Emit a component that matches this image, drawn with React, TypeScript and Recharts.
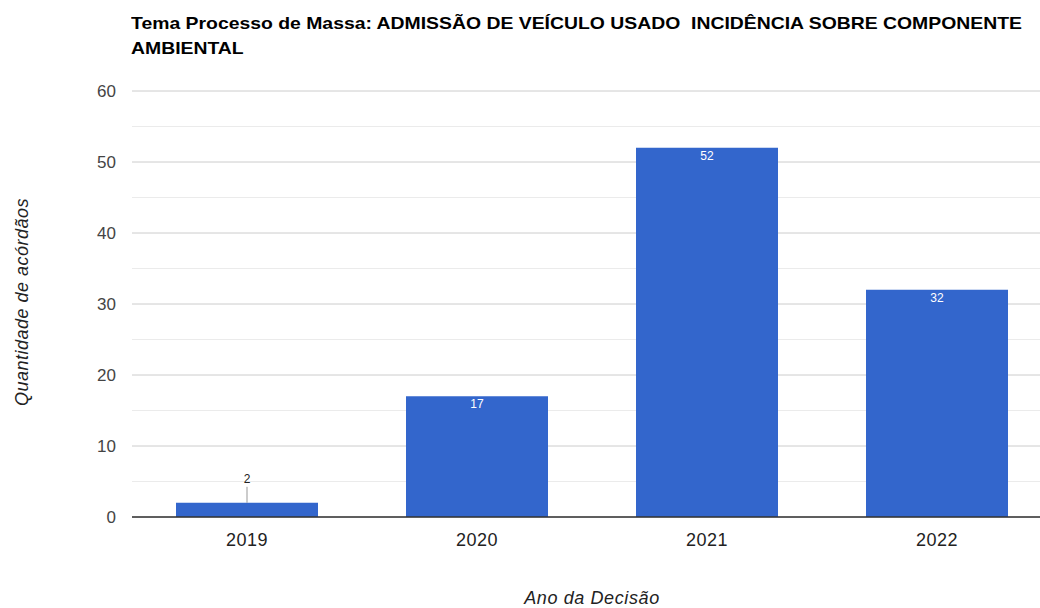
import React from 'react';
import { BarChart, Bar, XAxis, YAxis, CartesianGrid, ReferenceLine, LabelList } from 'recharts';

const years = ['2019', '2020', '2021', '2022'];
const counts = [2, 17, 52, 32];
const yTicks = [0, 10, 20, 30, 40, 50, 60];
const minorLines = [5, 15, 25, 35, 45, 55];

const data = years.map((ano, i) => ({ ano, qtd: counts[i] }));

const FONT = '"Liberation Sans", Arial, sans-serif';

// rótulo: dentro da barra (branco) ou acima com linha guia quando a barra é baixa
const ValueLabel = (props: any) => {
  const { x, y, width, height, value } = props;
  const cx = x + width / 2;
  if (height < 20) {
    return (
      <g>
        <line x1={cx} x2={cx} y1={y} y2={y - 16} stroke="#999" strokeWidth={1} />
        <text x={cx} y={y - 20} textAnchor="middle" fontSize={12} fill="#222" fontFamily={FONT}>
          {value}
        </text>
      </g>
    );
  }
  return (
    <text x={cx} y={y + 12} textAnchor="middle" fontSize={12} fill="#fff" fontFamily={FONT}>
      {value}
    </text>
  );
};

export default function App() {
  return (
    <div style={{ position: 'absolute', left: 0, top: 0, width: 1040, height: 608, overflow: 'hidden', background: '#fff', fontFamily: FONT }}>
      <div
        style={{
          position: 'absolute', left: 131, top: 11, fontSize: 17, fontWeight: 'bold', color: '#000',
          lineHeight: '25px', whiteSpace: 'pre', transform: 'scaleX(1.14)', transformOrigin: 'left top'
        }}
      >
        {'Tema Processo de Massa: ADMISSÃO DE VEÍCULO USADO  INCIDÊNCIA SOBRE COMPONENTE\nAMBIENTAL'}
      </div>
      <div
        style={{
          position: 'absolute', left: 22, top: 302, transform: 'translate(-50%, -50%) rotate(-90deg)',
          fontSize: 18, letterSpacing: 0.5, fontStyle: 'italic', color: '#222', whiteSpace: 'nowrap'
        }}
      >
        Quantidade de acórdãos
      </div>
      <div
        style={{
          position: 'absolute', left: 592, top: 598, transform: 'translate(-50%, -50%)',
          fontSize: 18, letterSpacing: 0.6, fontStyle: 'italic', color: '#222', whiteSpace: 'nowrap'
        }}
      >
        Ano da Decisão
      </div>
      <BarChart
        width={1060}
        height={608}
        data={data}
        margin={{ top: 91, right: 8, bottom: 41, left: 0 }}
        barCategoryGap={44}
      >
        <CartesianGrid vertical={false} stroke="#ebebeb" horizontalValues={minorLines} />
        <CartesianGrid vertical={false} stroke="#cccccc" />
        <XAxis
          dataKey="ano"
          height={50}
          tickLine={false}
          axisLine={{ stroke: '#333' }}
          tickMargin={10}
          tick={{ fontSize: 18, letterSpacing: 0.5, fill: '#222', fontFamily: FONT }}
        />
        <YAxis
          width={132}
          domain={[0, 60]}
          ticks={yTicks}
          axisLine={false}
          tickLine={false}
          tickMargin={10}
          tick={{ fontSize: 17, fill: '#444', fontFamily: FONT }}
        />
        <Bar dataKey="qtd" fill="#3366cc" isAnimationActive={false}>
          <LabelList dataKey="qtd" content={<ValueLabel />} />
        </Bar>
        <ReferenceLine y={0} stroke="#333" strokeWidth={1} />
      </BarChart>
    </div>
  );
}
